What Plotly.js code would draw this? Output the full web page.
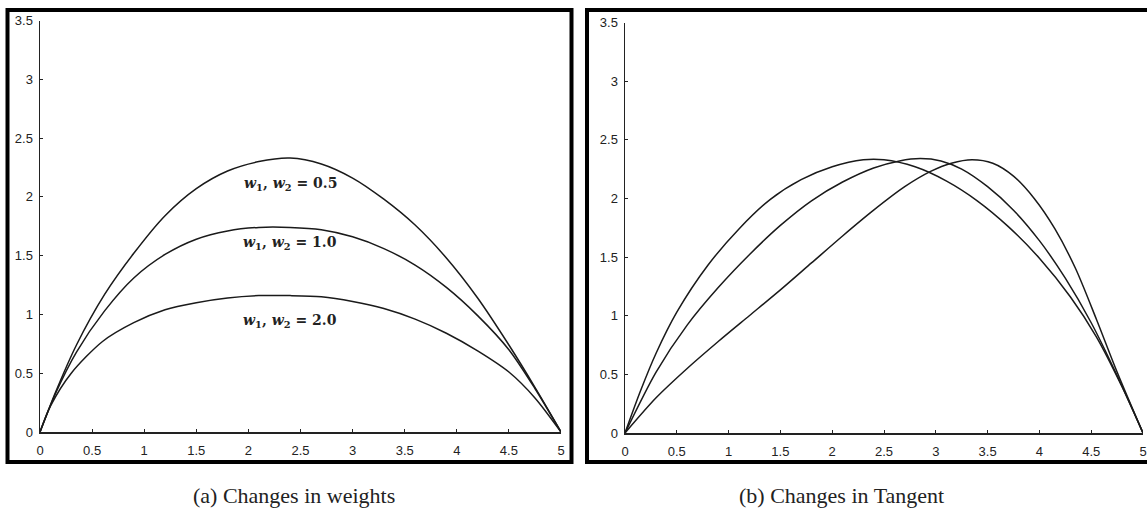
<!DOCTYPE html>
<html>
<head>
<meta charset="utf-8">
<script src="https://cdn.plot.ly/plotly-3.0.1.min.js"></script>
<style>html,body{margin:0;padding:0;background:#fff;}#chart{width:1147px;height:511px;}</style>
</head>
<body>
<div id="chart"></div>
<script>
// Panel (a): changes in weights
const xW05 = [0, 0.15, 0.35, 0.62, 0.9, 1.2, 1.5, 1.8, 2.1, 2.4, 2.7, 3.0, 3.3, 3.6, 3.9, 4.2, 4.5, 4.75, 5];
const yW05 = [0, 0.34, 0.74, 1.17, 1.52, 1.84, 2.07, 2.22, 2.30, 2.33, 2.28, 2.16, 1.98, 1.76, 1.48, 1.14, 0.74, 0.38, 0];
const xW10 = [0, 0.15, 0.35, 0.62, 0.9, 1.2, 1.5, 1.8, 2.1, 2.4, 2.7, 3.0, 3.3, 3.6, 3.9, 4.2, 4.5, 4.75, 5];
const yW10 = [0, 0.33, 0.68, 1.03, 1.31, 1.51, 1.64, 1.71, 1.74, 1.74, 1.72, 1.66, 1.56, 1.42, 1.23, 0.99, 0.70, 0.37, 0];
const xW20 = [0, 0.1, 0.3, 0.6, 0.9, 1.2, 1.5, 1.8, 2.1, 2.4, 2.7, 3.0, 3.3, 3.6, 3.9, 4.2, 4.5, 4.75, 5];
const yW20 = [0, 0.22, 0.50, 0.77, 0.93, 1.04, 1.10, 1.14, 1.16, 1.16, 1.15, 1.11, 1.05, 0.96, 0.84, 0.69, 0.51, 0.29, 0];
const weightLabels = ["0.5", "1.0", "2.0"];
const labelX = [2.40, 2.40, 2.40];
const labelY = [2.11, 1.61, 0.94];

// Panel (b): changes in tangent
const xT1 = [0, 0.15, 0.3, 0.5, 0.8, 1.1, 1.4, 1.7, 2.0, 2.3, 2.5, 2.8, 3.1, 3.4, 3.7, 4.0, 4.3, 4.55, 4.8, 5];
const yT1 = [0, 0.36, 0.68, 1.03, 1.43, 1.74, 1.99, 2.16, 2.27, 2.33, 2.33, 2.27, 2.15, 1.98, 1.76, 1.49, 1.16, 0.82, 0.39, 0];
const xT2 = [0, 0.3, 0.6, 0.9, 1.2, 1.5, 1.8, 2.1, 2.4, 2.65, 2.85, 3.05, 3.25, 3.5, 3.75, 4.0, 4.25, 4.5, 4.75, 5];
const yT2 = [0, 0.52, 0.92, 1.24, 1.52, 1.77, 1.98, 2.14, 2.26, 2.32, 2.34, 2.32, 2.25, 2.10, 1.90, 1.64, 1.32, 0.94, 0.49, 0];
const xT3 = [0, 0.3, 0.6, 0.9, 1.2, 1.5, 1.8, 2.1, 2.4, 2.7, 2.95, 3.15, 3.35, 3.55, 3.75, 3.95, 4.15, 4.35, 4.55, 4.75, 5];
const yT3 = [0, 0.30, 0.55, 0.78, 1.00, 1.22, 1.45, 1.68, 1.90, 2.10, 2.23, 2.30, 2.33, 2.30, 2.19, 2.00, 1.74, 1.40, 0.97, 0.52, 0];

const xTickVals = [0, 0.5, 1, 1.5, 2, 2.5, 3, 3.5, 4, 4.5, 5];
const xTickText = ["0", "0.5", "1", "1.5", "2", "2.5", "3", "3.5", "4", "4.5", "5"];
const yTickVals = [0, 0.5, 1, 1.5, 2, 2.5, 3, 3.5];
const yTickText = ["0", "0.5", "1", "1.5", "2", "2.5", "3", "3.5"];
const captions = ["(a) Changes in weights", "(b) Changes in Tangent"];

const W = 1147, H = 511;
const lineStyle = {color: '#1a1a1a', width: 1.5, shape: 'spline', smoothing: 0.8};
function tr(x, y, xa, ya) {
  return {x: x, y: y, xaxis: xa, yaxis: ya, mode: 'lines', line: lineStyle, hoverinfo: 'skip', showlegend: false};
}
const data = [
  tr(xW05, yW05, 'x', 'y'), tr(xW10, yW10, 'x', 'y'), tr(xW20, yW20, 'x', 'y'),
  tr(xT1, yT1, 'x2', 'y2'), tr(xT2, yT2, 'x2', 'y2'), tr(xT3, yT3, 'x2', 'y2')
];

const tickFont = {family: 'Liberation Sans', size: 13, color: '#222'};
function xaxis(d, anchor) {
  return {domain: d, range: [0, 5], tickvals: xTickVals, ticktext: xTickText, ticks: 'inside', ticklen: 3,
    tickcolor: '#222', showline: true, linecolor: '#222', linewidth: 1.5, showgrid: false, zeroline: false,
    tickfont: tickFont, ticklabelstandoff: 6, fixedrange: true, anchor: anchor};
}
function yaxis(d, anchor) {
  return {domain: d, range: [0, 3.5], tickvals: yTickVals, ticktext: yTickText, ticks: 'inside', ticklen: 3,
    tickcolor: '#222', showline: true, linecolor: '#222', linewidth: 1.5, showgrid: false, zeroline: false,
    tickfont: tickFont, ticklabelstandoff: 3, fixedrange: true, anchor: anchor};
}
const px = v => v / W, py = v => 1 - v / H;

const captionFont = {family: 'Liberation Serif', size: 22, color: '#222'};
const annotations = [];
for (let i = 0; i < weightLabels.length; i++) {
  annotations.push({xref: 'x', yref: 'y', x: labelX[i], y: labelY[i], showarrow: false,
    text: '<b><i>w</i><sub>1</sub>, <i>w</i><sub>2</sub> = ' + weightLabels[i] + '</b>',
    font: {family: 'DejaVu Serif', size: 14, color: '#222'}});
}
annotations.push({xref: 'paper', yref: 'paper', x: px(294), y: py(495), yanchor: 'middle', xanchor: 'center', showarrow: false, text: captions[0],
  font: captionFont});
annotations.push({xref: 'paper', yref: 'paper', x: px(841), y: py(495), yanchor: 'middle', xanchor: 'center', showarrow: false, text: captions[1],
  font: captionFont});

const layout = {
  width: W, height: H, margin: {l: 0, r: 0, t: 0, b: 0},
  paper_bgcolor: '#fff', plot_bgcolor: '#fff',
  font: {family: 'Liberation Sans'},
  xaxis: xaxis([px(40), px(561)], 'y'),
  yaxis: yaxis([py(432), py(20.5)], 'x'),
  xaxis2: xaxis([px(625), px(1143)], 'y2'),
  yaxis2: yaxis([py(433), py(22.5)], 'x2'),
  annotations: annotations,
  shapes: [
    {type: 'rect', xref: 'paper', yref: 'paper', x0: px(7.5), x1: px(571.5), y0: py(462), y1: py(10), line: {color: '#000', width: 4}},
    {type: 'rect', xref: 'paper', yref: 'paper', x0: px(587), x1: px(1152), y0: py(462), y1: py(10), line: {color: '#000', width: 4}}
  ]
};
Plotly.newPlot('chart', data, layout, {displayModeBar: false, staticPlot: true});
</script>
</body>
</html>
